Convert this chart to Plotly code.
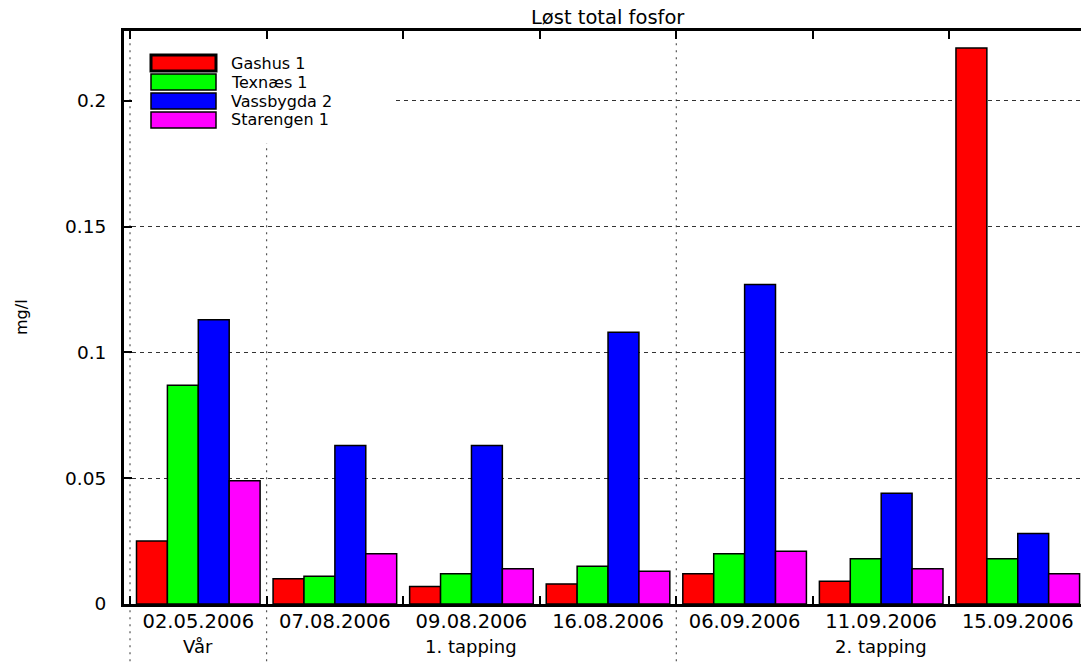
import plotly.graph_objects as go

# ---- data -------------------------------------------------------------
dates = ["02.05.2006", "07.08.2006", "09.08.2006", "16.08.2006",
         "06.09.2006", "11.09.2006", "15.09.2006"]
series_names = ["Gashus 1", "Texnæs 1", "Vassbygda 2", "Starengen 1"]
gashus_1 = [0.025, 0.010, 0.007, 0.008, 0.012, 0.009, 0.221]
texnaes_1 = [0.087, 0.011, 0.012, 0.015, 0.020, 0.018, 0.018]
vassbygda_2 = [0.113, 0.063, 0.063, 0.108, 0.127, 0.044, 0.028]
starengen_1 = [0.049, 0.020, 0.014, 0.013, 0.021, 0.014, 0.012]
series_values = [gashus_1, texnaes_1, vassbygda_2, starengen_1]
series_colors = ["#ff0000", "#00ff00", "#0000ff", "#ff00ff"]

y_tickvals = [0, 0.05, 0.1, 0.15, 0.2]
y_ticktext = ["0", "0.05", "0.1", "0.15", "0.2"]

# sampling periods: label, first and last date index
groups = ["Vår", "1. tapping", "2. tapping"]
group_first = [0, 1, 4]
group_last = [0, 3, 6]

title_text = "Løst total fosfor"
y_title = "mg/l"

# ---- layout constants -------------------------------------------------
W, H = 1081, 662
ML, MR, MT, MB = 124, 0, 31, 58
X_RANGE = [-0.544, 6.463]
Y_RANGE = [0, 0.2278]
FONT = "DejaVu Sans"


def px_x(p):
    return (p - ML) / (W - ML - MR)


def px_y(p):
    return (H - MB - p) / (H - MT - MB)


def cat_x(c):
    return (c - X_RANGE[0]) / (X_RANGE[1] - X_RANGE[0])


fig = go.Figure()
for name, vals, col in zip(series_names, series_values, series_colors):
    fig.add_trace(go.Bar(
        x=dates, y=vals, name=name,
        marker=dict(color=col, line=dict(color="black", width=1.5)),
        showlegend=False,
    ))

shapes = []
# dotted separators between sampling periods, running down into the label area
for g in group_first:
    xb = cat_x(g - 0.5)
    shapes.append(dict(type="line", xref="paper", yref="paper",
                       x0=xb, x1=xb, y0=-0.1, y1=1,
                       line=dict(color="#555", width=1.2, dash="2px,5px"),
                       layer="below"))

# legend box
shapes.append(dict(type="rect", xref="paper", yref="paper",
                   x0=px_x(132), x1=px_x(393), y0=px_y(143), y1=px_y(42),
                   fillcolor="white", line=dict(width=0), layer="above"))
sw_top = [55, 74, 93, 112]
sw_h = 16
for i, (name, col) in enumerate(zip(series_names, series_colors)):
    shapes.append(dict(type="rect", xref="paper", yref="paper",
                       x0=px_x(151), x1=px_x(216),
                       y0=px_y(sw_top[i] + sw_h), y1=px_y(sw_top[i]),
                       fillcolor=col,
                       line=dict(color="black", width=3 if i == 0 else 1.5),
                       layer="above"))

annotations = []
for i, name in enumerate(series_names):
    annotations.append(dict(xref="paper", yref="paper",
                            x=px_x(229), y=px_y(sw_top[i] + sw_h / 2),
                            text=name, showarrow=False,
                            xanchor="left", yanchor="middle",
                            font=dict(family=FONT, size=16, color="black")))

for label, a, b in zip(groups, group_first, group_last):
    annotations.append(dict(xref="paper", yref="paper",
                            x=cat_x((a + b) / 2), y=px_y(646),
                            text=label, showarrow=False,
                            xanchor="center", yanchor="middle",
                            font=dict(family=FONT, size=18, color="black")))

annotations.append(dict(xref="paper", yref="paper",
                        x=px_x(608), y=px_y(18), text=title_text,
                        showarrow=False, xanchor="center", yanchor="middle",
                        font=dict(family=FONT, size=19.5, color="black")))
annotations.append(dict(xref="paper", yref="paper",
                        x=px_x(21), y=px_y(317), text=y_title, textangle=-90,
                        showarrow=False, xanchor="center", yanchor="middle",
                        font=dict(family=FONT, size=16, color="black")))

fig.update_layout(
    width=W, height=H,
    margin=dict(l=ML, r=MR, t=MT, b=MB, pad=0),
    paper_bgcolor="white", plot_bgcolor="white",
    barmode="group", bargap=0.095, bargroupgap=0,
    shapes=shapes, annotations=annotations,
    font=dict(family=FONT, color="black"),
    xaxis=dict(
        type="category", categoryorder="array", categoryarray=dates,
        range=X_RANGE, showline=True, linecolor="black", linewidth=2.5,
        mirror="ticks", ticks="inside", ticklen=8, tickwidth=1.5,
        tickcolor="black", tickson="boundaries", showgrid=False,
        tickfont=dict(family=FONT, size=19.5, color="black"),
        ticklabelstandoff=-2,
    ),
    yaxis=dict(
        range=Y_RANGE, showline=True, linecolor="black", linewidth=3,
        ticks="inside", ticklen=8, tickwidth=1.5, tickcolor="black",
        tickvals=y_tickvals, ticktext=y_ticktext, zeroline=False,
        showgrid=True, gridcolor="#333", gridwidth=1, griddash="4px,4px",
        tickfont=dict(family=FONT, size=18.5, color="black"),
        ticklabelstandoff=11,
    ),
)

fig.write_html("out.html")
